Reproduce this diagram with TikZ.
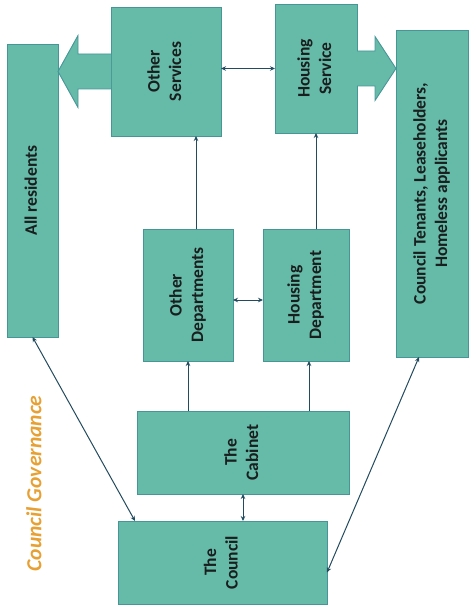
\documentclass[tikz,border=0pt]{standalone}
\usepackage{fontspec}
\setmainfont{Carlito}
\usepackage{graphicx}
\usetikzlibrary{arrows.meta,calc}
\definecolor{boxfill}{RGB}{102,186,168}
\definecolor{boxline}{RGB}{70,150,152}
\definecolor{conn}{RGB}{35,75,95}
\definecolor{govorange}{RGB}{230,160,52}
\definecolor{txt}{RGB}{25,30,30}
\newcommand{\boxtext}[1]{\rotatebox{90}{\fontsize{17.5}{21.5}\selectfont\bfseries\color{txt}\begin{tabular}{@{}c@{}}#1\end{tabular}}}
\tikzset{
  orgbox/.style={draw=boxline, fill=boxfill, line width=0.9pt, inner sep=0pt, outer sep=0pt, rectangle},
  blockarrow/.style={draw=boxline, fill=boxfill, line width=0.9pt, line join=miter},
  conline/.style={draw=conn, line width=1pt, -{Stealth[length=5pt,width=4.5pt]}},
  dblline/.style={draw=conn, line width=1pt, {Stealth[length=5pt,width=4.5pt]}-{Stealth[length=5pt,width=4.5pt]}}
}
\begin{document}
\begin{tikzpicture}[x=1pt,y=-1pt]
\useasboundingbox (0,0) rectangle (472,609);
% boxes
\node[orgbox, minimum width=110pt, minimum height=129pt] (os) at (166,71.5) {\boxtext{Other\\Services}};
\node[orgbox, minimum width=82pt, minimum height=129pt] (hs) at (316,68.5) {\boxtext{Housing\\Service}};
\node[orgbox, minimum width=51pt, minimum height=293pt] (ar) at (32.5,190.5) {\boxtext{All residents}};
\node[orgbox, minimum width=72pt, minimum height=327pt] (ct) at (432,193.5) {\boxtext{Council Tenants, Leaseholders,\\Homeless applicants}};
\node[orgbox, minimum width=90pt, minimum height=132pt] (od) at (188,295) {\boxtext{Other\\Departments}};
\node[orgbox, minimum width=86pt, minimum height=132pt] (hd) at (306,295) {\boxtext{Housing\\Department}};
\node[orgbox, minimum width=212pt, minimum height=83pt] (cab) at (243,452.5) {\boxtext{The\\Cabinet}};
\node[orgbox, minimum width=209pt, minimum height=83pt] (cou) at (222.5,562.5) {\boxtext{The\\Council}};
% governance label
\node[rotate=90, inner sep=0pt] (gov) at (34,483.5) {\fontsize{21.5}{24}\selectfont\bfseries\itshape\color{govorange}Council Governance};
% block arrows
\coordinate (ltip) at (ar.east |- os.west);
\draw[blockarrow] ($(os.west)+(0,-17.5)$) -- ($(ltip)+(20,-17.5)$) -- ($(ltip)+(20,-36)$) -- (ltip)
  -- ($(ltip)+(20,36)$) -- ($(ltip)+(20,17.5)$) -- ($(os.west)+(0,17.5)$);
\coordinate (rtip) at (ct.west |- hs.east);
\draw[blockarrow] ($(hs.east)+(0,-17.5)$) -- ($(rtip)+(-21,-17.5)$) -- ($(rtip)+(-21,-32)$) -- (rtip)
  -- ($(rtip)+(-21,32)$) -- ($(rtip)+(-21,17.5)$) -- ($(hs.east)+(0,17.5)$);
% connectors
\draw[dblline] (os.east |- hs.west) -- (hs.west);
\coordinate (odtop) at ($(od.north)+(8,0)$);
\draw[conline] (odtop) -- (os.south -| odtop);
\draw[conline] (hd.north -| hs.south) -- (hs.south);
\draw[dblline] ($(od.east)+(0,5)$) -- ($(hd.west)+(0,5)$);
\draw[conline] (cab.north -| od.south) -- (od.south);
\coordinate (hdbot) at ($(hd.south)+(3,0)$);
\draw[conline] (cab.north -| hdbot) -- (hdbot);
\draw[dblline] (cab.south) -- (cou.north -| cab.south);
\draw[dblline] (ar.south) -- ($(cou.north west)+(17,0)$);
\draw[dblline] ($(ct.south)+(-13,0)$) -- ($(cou.east)+(0,10)$);
\end{tikzpicture}
\end{document}
